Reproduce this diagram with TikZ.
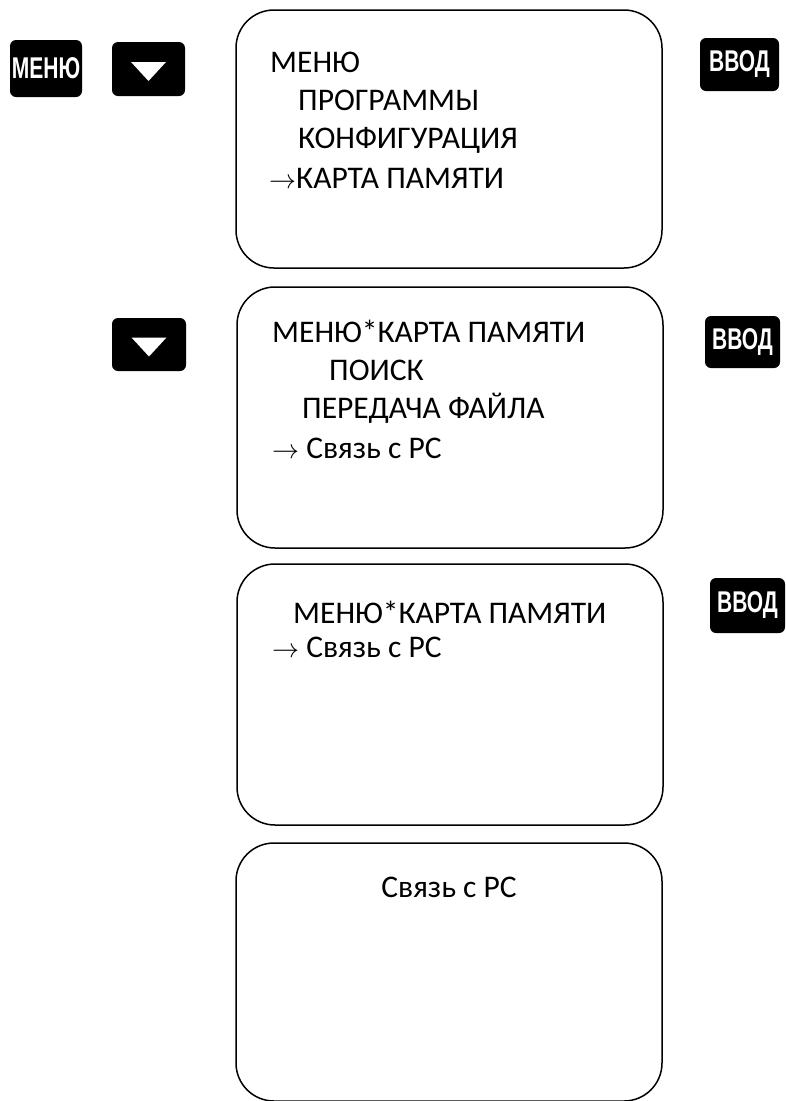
\documentclass[tikz,border=0pt]{standalone}
\usepackage{fontspec}
\setmainfont{Carlito}
\newfontfamily\keyfont{Liberation Sans}
\usetikzlibrary{positioning}

% narrow white lettering on the keys
\newcommand{\keylabel}[1]{\scalebox{0.7}[1]{#1}}
% cursor arrow in front of the chosen item
\newcommand{\sel}{\scalebox{2.7}{\fontsize{10}{12}\selectfont$\rightarrow$}}

\begin{document}
\begin{tikzpicture}[
    x=1pt, y=-1pt,
    screen/.style={draw, line width=1.5pt, rounded corners=38pt, minimum width=426pt, inner sep=0pt},
    key/.style={fill=black, rounded corners=6pt, inner sep=0pt, text=white,
                font=\keyfont\bfseries\fontsize{30}{30}\selectfont},
    line/.style={anchor=base west, inner sep=0pt, font=\fontsize{31.5}{38}\selectfont}
]
    \useasboundingbox (0,0) rectangle (785,1101);

    % Screens
    \node[screen, minimum height=258pt] (s1) at (449,139) {};
    \node[screen, minimum height=261pt] (s2) at (450,417.5) {};
    \node[screen, minimum height=261pt] (s3) at (450,694.5) {};
    \node[screen, minimum height=258pt] (s4) at (449,972) {};

    % Keys
    \node[key, minimum width=72pt, minimum height=57pt] (menu) at (46,68.5) {\keylabel{МЕНЮ}};
    \node[key, minimum width=73pt, minimum height=54pt] (dn1) at (148.5,69) {};
    \node[key, minimum width=74pt, minimum height=53pt] (dn2) at (149,344.5) {};
    \node[key, minimum width=79pt, minimum height=53pt] (ok1) at (739.5,64.5) {\keylabel{ВВОД}};
    \node[key, minimum width=75pt, minimum height=52pt] (ok2) at (742.5,342) {\keylabel{ВВОД}};
    \node[key, minimum width=75pt, minimum height=55pt] (ok3) at (747.5,605.5) {\keylabel{ВВОД}};
    \foreach \k in {dn1,dn2}
        \fill[white] (\k.center) ++(-17.5,-7) -- ++(35,0) -- ++(-17.5,19) -- cycle;

    % Screen 1
    \node[line] (s1a) at (270,72) {МЕНЮ};
    \node[line] (s1b) at (298,110) {ПРОГРАММЫ};
    \node[line] (s1c) at (298,148) {КОНФИГУРАЦИЯ};
    \node[line] (s1d) at (269,188) {\sel КАРТА ПАМЯТИ};

    % Screen 2
    \node[line] (s2a) at (272,342) {МЕНЮ*КАРТА ПАМЯТИ};
    \node[line] (s2b) at (329,380) {ПОИСК};
    \node[line] (s2c) at (302,418) {ПЕРЕДАЧА ФАЙЛА};
    \node[line] (s2d) at (272,458) {\sel{} Связь с PC};

    % Screen 3
    \node[line] (s3a) at (293,623) {МЕНЮ*КАРТА ПАМЯТИ};
    \node[line] (s3b) at (272,657) {\sel{} Связь с PC};

    % Screen 4
    \node[line, anchor=base] (s4a) at (449,897) {Связь с PC};
\end{tikzpicture}
\end{document}
